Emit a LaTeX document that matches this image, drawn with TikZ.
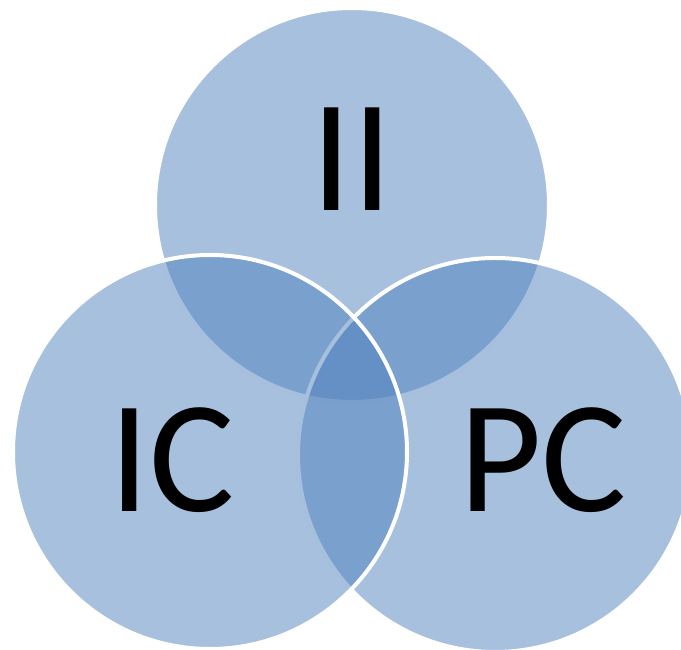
\documentclass[tikz,border=0pt]{standalone}
\usepackage{fontspec}
\setmainfont{Carlito}
\usepackage{tikz}
\usetikzlibrary{positioning}
\definecolor{vennblue}{RGB}{79, 129, 189}

\begin{document}
\begin{tikzpicture}[
    x=1pt, y=1pt,
    venn/.style={circle, fill=vennblue, fill opacity=0.5, draw=white, draw opacity=1, line width=4pt, minimum size=394pt, inner sep=0pt},
    biglabel/.style={inner sep=0pt, anchor=base, font=\fontsize{160}{160}\selectfont}
]
\useasboundingbox (0,0) rectangle (681,650);
\clip (0,0) rectangle (681,650);

\node[venn] (ii) at (352,445) {};
\node[venn] (pc) at (495,195) {};
\node[venn] (ic) at (210,198) {};

\node[biglabel] (iilabel) at (352,439) {II};
\node[biglabel] (iclabel) at (172,138) {IC};
\node[biglabel] (pclabel) at (543,138) {PC};

\end{tikzpicture}
\end{document}
